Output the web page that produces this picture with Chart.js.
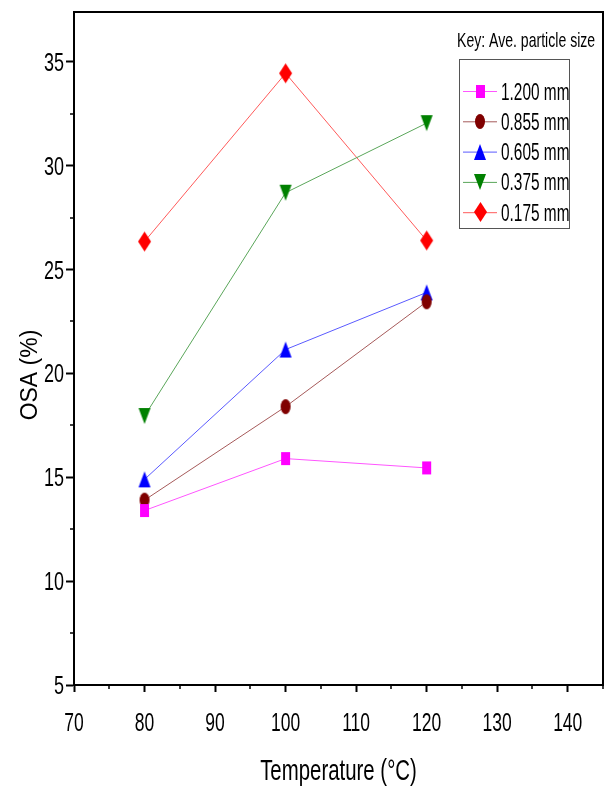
<!DOCTYPE html>
<html>
<head>
<meta charset="utf-8">
<script src="https://cdn.jsdelivr.net/npm/chart.js@4/dist/chart.umd.min.js"></script>
<style>
  html, body { margin: 0; padding: 0; background: #fff; }
  #wrap { width: 608px; height: 794px; }
</style>
</head>
<body>
<div id="wrap"><canvas id="osaChart" width="608" height="794"></canvas></div>
<script>
// temperatures (deg C) and OSA (%) per average particle size
const temps = [80, 100, 120];
const osa1200 = [13.4, 15.9, 15.45];
const osa855 = [13.9, 18.4, 23.45];
const osa605 = [14.9, 21.15, 23.9];
const osa375 = [17.95, 28.7, 32.05];
const osa175 = [26.35, 34.45, 26.4];
const sizeLabels = ['1.200 mm', '0.855 mm', '0.605 mm', '0.375 mm', '0.175 mm'];
const legendTitle = 'Key: Ave. particle size';
const xTitle = 'Temperature (°C)';
const yTitle = 'OSA (%)';

const xMin = 70, xMax = 145, xStep = 10;
const yMin = 5, yMax = 37.4, yStep = 5;

const FONT = '"Liberation Sans", Arial, sans-serif';

const toPoints = vals => temps.map((t, i) => ({ x: t, y: vals[i] }));

// markers in the original are a bit taller than wide
function marker(shape, w, h, color) {
  const c = document.createElement('canvas');
  c.width = w + 2;
  c.height = h + 2;
  const g = c.getContext('2d');
  g.fillStyle = color;
  g.translate(1, 1);
  g.beginPath();
  if (shape === 'rect') g.rect(0, 0, w, h);
  if (shape === 'ellipse') g.ellipse(w / 2, h / 2, w / 2, h / 2, 0, 0, Math.PI * 2);
  if (shape === 'up') { g.moveTo(w / 2, 0); g.lineTo(w, h); g.lineTo(0, h); }
  if (shape === 'down') { g.moveTo(0, 0); g.lineTo(w, 0); g.lineTo(w / 2, h); }
  if (shape === 'diamond') { g.moveTo(w / 2, 0); g.lineTo(w, h / 2); g.lineTo(w / 2, h); g.lineTo(0, h / 2); }
  g.closePath();
  g.fill();
  return c;
}

const styles = [
  { line: '#ff55ff', mark: marker('rect', 9, 13, '#ff00ff') },
  { line: '#a65a5a', mark: marker('ellipse', 10, 15, '#800000') },
  { line: '#5a5aff', mark: marker('up', 12, 16, '#0000ff') },
  { line: '#5aa65a', mark: marker('down', 12, 16, '#008000') },
  { line: '#ff5a5a', mark: marker('diamond', 13, 20, '#ff0000') },
];
const series = [osa1200, osa855, osa605, osa375, osa175];

const datasets = series.map((vals, i) => ({
  label: sizeLabels[i],
  data: toPoints(vals),
  borderColor: styles[i].line,
  borderWidth: 1,
  pointStyle: styles[i].mark,
  tension: 0,
}));

// narrow text, like the squeezed Arial of the original
function squeezed(ctx, text, x, y, size, align, sx) {
  ctx.save();
  ctx.translate(x, y);
  ctx.scale(sx, 1);
  ctx.font = size + 'px ' + FONT;
  ctx.textAlign = align;
  ctx.textBaseline = 'alphabetic';
  ctx.fillStyle = '#000';
  ctx.fillText(text, 0, 0);
  ctx.restore();
}

// frame, minor ticks, labels and the key box
const extras = {
  id: 'extras',
  afterDraw(chart) {
    const ctx = chart.ctx;
    const a = chart.chartArea;
    const xs = chart.scales.x, ys = chart.scales.y;
    ctx.save();
    ctx.strokeStyle = '#000';
    ctx.lineWidth = 2;
    ctx.strokeRect(a.left, a.top, a.right - a.left, a.bottom - a.top);

    // minor ticks
    ctx.lineWidth = 1.5;
    ctx.beginPath();
    for (let v = xMin + xStep / 2; v <= xMax + 0.01; v += xStep) {
      const px = Math.round(xs.getPixelForValue(v));
      ctx.moveTo(px, a.bottom);
      ctx.lineTo(px, a.bottom + 4);
    }
    for (let v = yMin + yStep / 2; v <= yMax; v += yStep) {
      const py = Math.round(ys.getPixelForValue(v));
      ctx.moveTo(a.left, py);
      ctx.lineTo(a.left - 4, py);
    }
    ctx.stroke();

    // tick labels
    xs.ticks.forEach(t => {
      squeezed(ctx, String(t.value), xs.getPixelForValue(t.value), a.bottom + 46, 25, 'center', 0.7);
    });
    ys.ticks.forEach(t => {
      squeezed(ctx, String(t.value), a.left - 10, ys.getPixelForValue(t.value) + 9, 25, 'right', 0.72);
    });

    // axis titles
    squeezed(ctx, xTitle, (a.left + a.right) / 2, 780, 30, 'center', 0.68);
    ctx.save();
    ctx.translate(31, 375);
    ctx.rotate(-Math.PI / 2);
    ctx.font = '23px ' + FONT;
    ctx.textAlign = 'center';
    ctx.textBaseline = 'middle';
    ctx.fillStyle = '#000';
    ctx.fillText(yTitle, 0, 0);
    ctx.restore();

    // key
    squeezed(ctx, legendTitle, 457, 47, 21, 'left', 0.67);
    ctx.strokeStyle = '#555';
    ctx.lineWidth = 1;
    ctx.strokeRect(459.5, 59.5, 110, 169);

    chart.data.datasets.forEach((ds, i) => {
      const y = 91 + i * 30.3;
      ctx.strokeStyle = ds.borderColor;
      ctx.lineWidth = 1;
      ctx.beginPath();
      ctx.moveTo(463, y + 0.5);
      ctx.lineTo(497, y + 0.5);
      ctx.stroke();
      const img = ds.pointStyle;
      ctx.drawImage(img, Math.round(480 - img.width / 2), Math.round(y - img.height / 2));
      squeezed(ctx, ds.label, 501, y + 8.5, 23, 'left', 0.67);
    });
    ctx.restore();
  }
};

new Chart(document.getElementById('osaChart'), {
  type: 'line',
  data: { datasets },
  plugins: [extras],
  options: {
    responsive: false,
    animation: false,
    devicePixelRatio: 1,
    layout: { padding: { top: 12, right: 2, left: 0, bottom: 0 } },
    plugins: { legend: { display: false }, tooltip: { enabled: false } },
    scales: {
      x: {
        type: 'linear',
        min: xMin,
        max: xMax,
        afterFit: s => { s.height = 109; },
        ticks: { stepSize: xStep, includeBounds: false, display: false },
        grid: { drawOnChartArea: false, drawTicks: true, tickLength: 7, tickWidth: 2, tickColor: '#000' },
        border: { display: true, color: '#000', width: 2 },
      },
      y: {
        type: 'linear',
        min: yMin,
        max: yMax,
        afterFit: s => { s.width = 74; },
        ticks: { stepSize: yStep, includeBounds: false, display: false },
        grid: { drawOnChartArea: false, drawTicks: true, tickLength: 8, tickWidth: 2, tickColor: '#000' },
        border: { display: true, color: '#000', width: 2 },
      },
    },
  },
});
</script>
</body>
</html>
